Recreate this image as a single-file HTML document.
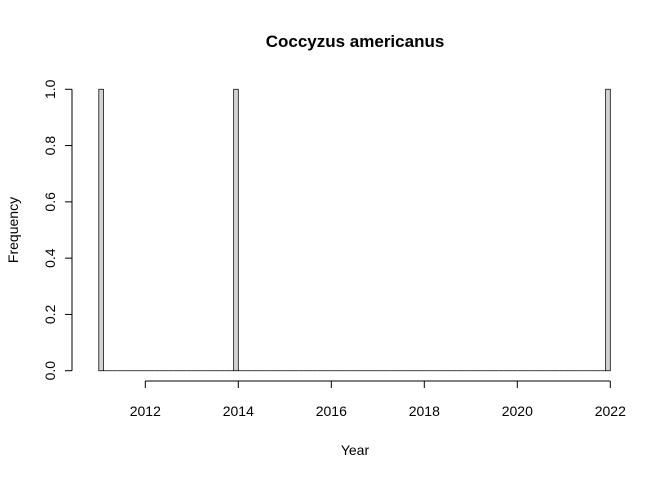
<!DOCTYPE html>
<html><head><meta charset="utf-8"><style>
body{margin:0;background:#fff}
svg text{font-family:"Liberation Sans",Arial,sans-serif;fill:#000}
</style></head><body>
<svg id="chart" width="672" height="480" viewBox="0 0 672 480">
<text x="355" y="47" text-anchor="middle" font-size="17" font-weight="bold">Coccyzus americanus</text>
<text x="355" y="455" text-anchor="middle" font-size="14">Year</text>
<text transform="translate(18,230) rotate(-90)" text-anchor="middle" font-size="14">Frequency</text>
<g id="bars"></g>
<g id="xaxis"></g>
<g id="yaxis"></g>
</svg>
<script>
const observations = [2011, 2014, 2022];
const binStart = 2011, binEnd = 2022, binWidth = 0.1;
const xTicks = [2012, 2014, 2016, 2018, 2020, 2022];
const yTicks = [0, 0.2, 0.4, 0.6, 0.8, 1.0];
const yTickLabels = ["0.0", "0.2", "0.4", "0.6", "0.8", "1.0"];

const NS = "http://www.w3.org/2000/svg";
const xs = v => 98.8 + (v - 2011) * 46.5;
const ys = v => 370.7 - v * 281.4;
function mk(tag, attrs, parent){const e=document.createElementNS(NS,tag);for(const k in attrs)e.setAttribute(k,attrs[k]);parent.appendChild(e);return e;}

const nBins = Math.round((binEnd - binStart) / binWidth);
const counts = new Array(nBins).fill(0);
observations.forEach(o => {
  let i = Math.ceil((o - binStart) / binWidth - 1e-9) - 1;
  if (i < 0) i = 0;
  if (i >= nBins) i = nBins - 1;
  counts[i]++;
});
const bars = document.getElementById('bars');
counts.forEach((c, i) => {
  const x0 = xs(binStart + i * binWidth), x1 = xs(binStart + (i + 1) * binWidth);
  const y0 = ys(0), y1 = ys(c);
  const p = mk('path', {d: `M${x0},${y0} L${x0},${y1} L${x1},${y1} L${x1},${y0} Z`, fill: '#d3d3d3', stroke: '#000', 'stroke-width': 0.75}, bars);
  
  
});

const xa = document.getElementById('xaxis');
const xl = mk('line', {x1: xs(xTicks[0]), x2: xs(xTicks[xTicks.length-1]), y1: 381, y2: 381, stroke: '#000'}, xa);


xTicks.forEach(t => {
  mk('line', {x1: xs(t), x2: xs(t), y1: 381, y2: 388, stroke: '#000'}, xa);
  const tx = mk('text', {x: xs(t), y: 416, 'text-anchor': 'middle', 'font-size': 14}, xa);
  tx.textContent = t;
  
  
});

const ya = document.getElementById('yaxis');
const yl = mk('line', {x1: 72, x2: 72, y1: ys(yTicks[0]), y2: ys(yTicks[yTicks.length-1]), stroke: '#000'}, ya);


yTicks.forEach((t, i) => {
  mk('line', {x1: 65, x2: 72, y1: ys(t), y2: ys(t), stroke: '#000'}, ya);
  const tx = mk('text', {transform: `translate(55,${ys(t)}) rotate(-90)`, 'text-anchor': 'middle', 'font-size': 14}, ya);
  tx.textContent = yTickLabels[i];
  
  
});
</script>
</body></html>
